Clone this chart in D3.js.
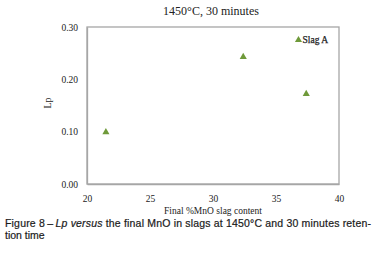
<!DOCTYPE html>
<html><head><meta charset="utf-8">
<script src="https://cdn.jsdelivr.net/npm/d3@7"></script>
<style>body{margin:0;background:#fff}svg{display:block}</style>
</head><body>
<script>
const xValues = [21.5, 32.4, 37.4];
const yValues = [0.099, 0.243, 0.172];
const xTicks = [20, 25, 30, 35, 40];
const yTicks = [0, 0.1, 0.2, 0.3];
const seriesName = "Slag A";

const W = 378, H = 254;
const svg = d3.select("body").append("svg").attr("width", W).attr("height", H);
const x = d3.scaleLinear().domain([20, 40]).range([87, 339]);
const y = d3.scaleLinear().domain([0, 0.3]).range([184, 27]);
const serif = "'Liberation Serif','Times New Roman',serif";
const green = "#6f9a3a";

// frame
svg.append("rect").attr("x", x(20)).attr("y", y(0.3)).attr("width", x(40) - x(20)).attr("height", y(0) - y(0.3))
  .attr("fill", "none").attr("stroke", "#a6a6a6").attr("stroke-width", 1.3);

const xa = svg.append("g").attr("transform", `translate(0,${y(0)})`)
  .call(d3.axisBottom(x).tickValues(xTicks).tickSize(0).tickPadding(11).tickFormat(d3.format("d")));
const ya = svg.append("g").attr("transform", `translate(${x(20)},0)`)
  .call(d3.axisLeft(y).tickValues(yTicks).tickSize(0).tickPadding(9).tickFormat(d3.format(".2f")));
[xa, ya].forEach(a => {
  a.select(".domain").attr("stroke", "#a6a6a6").attr("stroke-width", 1.3);
  a.selectAll("text").attr("font-family", serif).attr("font-size", 9.5).attr("fill", "#222");
});

svg.append("text").attr("x", 211).attr("y", 15).attr("text-anchor", "middle")
  .attr("font-family", serif).attr("font-size", 12).attr("fill", "#222").text("1450°C, 30 minutes");
svg.append("text").attr("x", 213).attr("y", 214).attr("text-anchor", "middle")
  .attr("font-family", serif).attr("font-size", 9.5).attr("fill", "#222").text("Final %MnO slag content");
svg.append("text").attr("transform", "translate(51,103) rotate(-90)").attr("text-anchor", "middle")
  .attr("font-family", serif).attr("font-size", 10).attr("fill", "#222").text("Lp");

const tri = d3.symbol().type(d3.symbolTriangle).size(22);
svg.append("g").selectAll("path").data(xValues).join("path")
  .attr("transform", (d, i) => `translate(${x(d)},${y(yValues[i])})`)
  .attr("d", tri).attr("fill", green);

// legend
svg.append("path").attr("transform", "translate(298.5,40)").attr("d", tri).attr("fill", green);
svg.append("text").attr("x", 302.5).attr("y", 43.3).attr("font-family", serif).attr("font-size", 9.5)
  .attr("fill", "#222").attr("stroke", "#222").attr("stroke-width", 0.25).text(seriesName);

// caption
const cap = svg.append("text").attr("font-family", "'Liberation Sans',Arial,sans-serif").attr("font-size", 10.5)
  .attr("fill", "#1a1a1a").attr("stroke", "#1a1a1a").attr("stroke-width", 0.2);
const l1 = cap.append("tspan").attr("x", 5).attr("y", 227);
l1.append("tspan").text("Figure 8\u2009\u2013\u2009");
l1.append("tspan").attr("font-style", "italic").text("Lp versus");
l1.append("tspan").text(" the final MnO in slags at 1450°C and 30 minutes reten-");
cap.append("tspan").attr("x", 5).attr("y", 239).text("tion time");
const bb = l1.node().getComputedTextLength();
if (bb > 0) l1.attr("textLength", 366).attr("lengthAdjust", "spacing");
</script>
</body></html>
